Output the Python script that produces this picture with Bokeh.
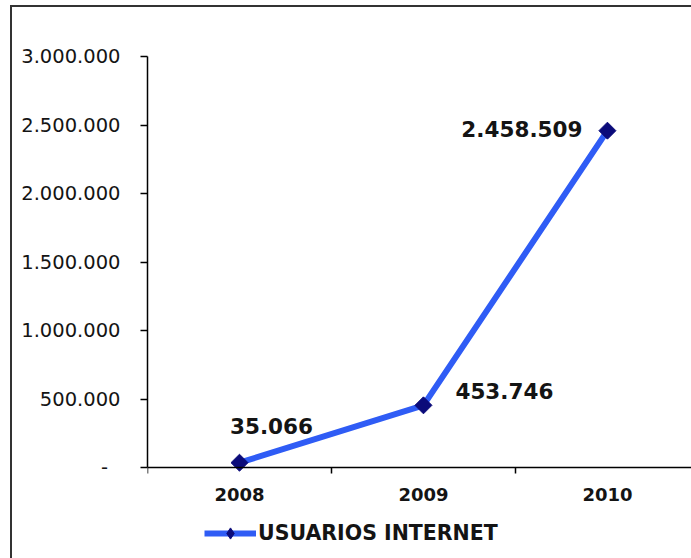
import math
from bokeh.plotting import figure
from bokeh.layouts import column
from bokeh.models import Range1d, FixedTicker, Legend, LegendItem
from bokeh.core.properties import value
from bokeh.embed import file_html
from bokeh.resources import INLINE

# ---- data ----
categories = ["2008", "2009", "2010"]
usuarios = [35066, 453746, 2458509]
y_ticks = [0, 500000, 1000000, 1500000, 2000000, 2500000, 3000000]
y_tick_labels = ["-\u2007", "500.000", "1.000.000", "1.500.000", "2.000.000", "2.500.000", "3.000.000"]
series_name = "USUARIOS INTERNET"
y_max = 3000000

xs = [i + 0.5 for i in range(len(categories))]
labels = [f"{v:,}".replace(",", ".") for v in usuarios]

FONT = "DejaVu Sans"
TXT = "#141414"

OX, OY = 12, 7          # canvas offset inside the outer chart border
FRAME_TOP, AXIS_Y, H = 56, 467, 558   # page pixels: top of plot, x-axis position, page bottom
y_min = -(H - AXIS_Y) * y_max / (AXIS_Y - FRAME_TOP)  # extra room below the x axis for labels/legend

p = figure(width=691 - OX, height=H - OY, output_backend="svg", toolbar_location=None,
           x_range=Range1d(0, 2.957), y_range=Range1d(y_min, y_max),
           min_border_left=147 - OX, min_border_right=0, min_border_top=FRAME_TOP - OY,
           min_border_bottom=0)
p.background_fill_color = "white"
p.border_fill_color = "white"
p.outline_line_color = None
p.xgrid.visible = False
p.ygrid.visible = False

# y axis
p.yaxis.ticker = FixedTicker(ticks=y_ticks)
p.yaxis.bounds = (0, y_max)
p.yaxis.major_label_overrides = {t: l for t, l in zip(y_ticks, y_tick_labels)}
p.yaxis.major_tick_out = 7
p.yaxis.major_tick_in = 0
p.yaxis.minor_tick_line_color = None
p.yaxis.major_label_standoff = 20
p.yaxis.major_label_text_font = FONT
p.yaxis.major_label_text_font_size = "19.5px"
p.yaxis.major_label_text_color = TXT
p.yaxis.axis_line_color = "black"
p.yaxis.axis_line_width = 1.5
p.yaxis.major_tick_line_width = 1.5

# x axis at y = 0: labels at category centres, ticks at category boundaries
p.xaxis.fixed_location = 0
p.xaxis.ticker = FixedTicker(ticks=xs, minor_ticks=[0, 1, 2, 3])
p.xaxis.major_label_overrides = {x: c for x, c in zip(xs, categories)}
p.xaxis.major_tick_out = 0
p.xaxis.major_tick_in = 0
p.xaxis.minor_tick_out = 6
p.xaxis.minor_tick_in = 0
p.xaxis.minor_tick_line_width = 1.5
p.xaxis.major_label_standoff = 14
p.xaxis.major_label_text_font = FONT
p.xaxis.major_label_text_font_style = "bold"
p.xaxis.major_label_text_font_size = "18px"
p.xaxis.major_label_text_color = TXT
p.xaxis.axis_line_color = "black"
p.xaxis.axis_line_width = 1.5

LINE = "#2f5cf5"
MARK = "#0b0b7a"
ln = p.line(xs, usuarios, line_color=LINE, line_width=6)
# small diamond used as legend key (hidden below the main markers)
key = p.scatter(xs, usuarios, marker="diamond", size=14, fill_color=MARK, line_color=MARK)
sc = p.scatter(xs, usuarios, marker="square", angle=math.pi / 4, size=12,
               fill_color=MARK, line_color=MARK)

# data labels
offs_x = [32, 32, -25]
offs_y = [-37, -14, -2]
aligns = ["center", "left", "right"]
for x, y, t, ox, oy, al in zip(xs, usuarios, labels, offs_x, offs_y, aligns):
    p.text([x], [y], text=[t], x_offset=ox, y_offset=oy, text_align=al,
           text_baseline="middle", text_font=value(FONT), text_font_style="bold",
           text_font_size="21.5px", text_color=TXT)

legend = Legend(items=[LegendItem(label=series_name, renderers=[ln, key])],
                location=(57, 11), orientation="horizontal",
                glyph_width=52, glyph_height=28, label_height=28,
                padding=0, margin=0, spacing=0, label_standoff=2,
                border_line_color=None, background_fill_alpha=0,
                label_text_font=FONT, label_text_font_style="bold",
                label_text_font_size="20.5px", label_text_color=TXT)
p.add_layout(legend, "center")

page = column(p, styles={"border-left": "2px solid #333333", "border-top": "2px solid #333333",
                         "margin-left": "10px", "margin-top": f"{OY - 2}px"})

open("out.html", "w").write(file_html(page, INLINE))
